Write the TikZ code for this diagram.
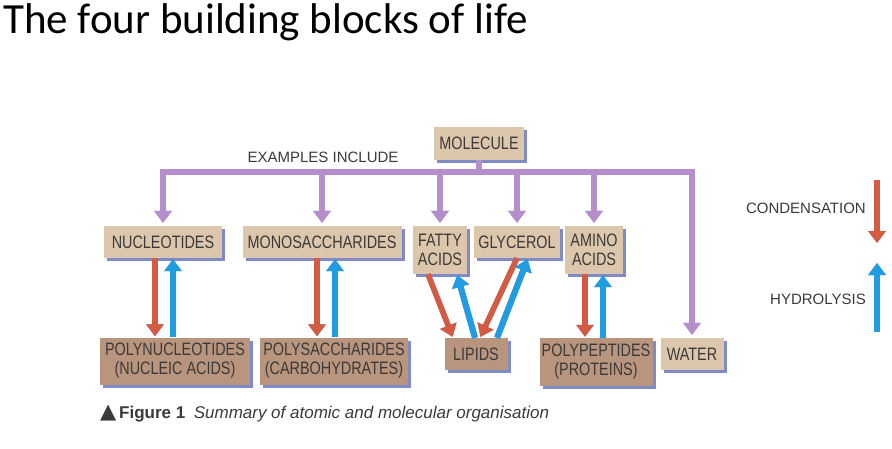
\documentclass[tikz,border=0pt]{standalone}
\usepackage{fontspec}
\setmainfont{Liberation Sans}
\newfontfamily\titlefont{Carlito}
\newfontfamily\boxfont[FakeStretch=0.8]{Liberation Sans}
\newfontfamily\symfont{DejaVu Sans}
\usetikzlibrary{arrows.meta,shadows,calc}
\definecolor{boxtan}{HTML}{DCC6AC}
\definecolor{boxbrown}{HTML}{B9957E}
\definecolor{shadowblue}{HTML}{7D8BC6}
\definecolor{lilac}{HTML}{B68ECB}
\definecolor{condred}{HTML}{D45A42}
\definecolor{hydroblue}{HTML}{1F9CE2}
\definecolor{inkgrey}{HTML}{3A3A3A}
\tikzset{
  unit/.style     = {fill=boxtan, text=inkgrey, align=center, inner sep=0pt,
                     font=\boxfont\fontsize{18}{19}\selectfont,
                     drop shadow={shadow xshift=3pt, shadow yshift=-3pt, fill=shadowblue, opacity=1}},
  polymer/.style  = {unit, fill=boxbrown},
  tree/.style     = {draw=lilac, line width=5.5pt, shorten >=3pt, -{Triangle[length=12pt,width=17pt]}},
  cond/.style     = {draw=condred, line width=5.5pt, shorten >=1pt, -{Triangle[length=12pt,width=17pt]}},
  hydro/.style    = {draw=hydroblue, line width=6pt, shorten >=1pt, -{Triangle[length=12pt,width=17pt]}},
  lbl/.style      = {text=inkgrey, font=\fontsize{15}{18}\selectfont, inner sep=0pt},
}
% all connectors, drawn twice: once as shadow, once in colour
\newcommand\lifelinks{%
  % molecule tree
  \draw[tree, -, shorten >=0pt] (mol.south) -- (mol.south |- bar);
  \draw[tree, -, shorten >=0pt, line cap=rect] (nuc.north |- bar) -- (wat.north |- bar);
  \foreach \n in {nuc,mono,fat,gly,ami,wat}
    \draw[tree] (\n.north |- bar) -- (\n.north);
  % condensation / hydrolysis
  \draw[cond]  ([xshift=-8pt]nuc.south) -- ([xshift=-8pt]nuc.south |- pnuc.north);
  \draw[hydro] ([xshift=10pt]nuc.south |- pnuc.north) -- ([xshift=10pt]nuc.south);
  \draw[cond]  ([xshift=-5pt]mono.south) -- ([xshift=-5pt]mono.south |- psac.north);
  \draw[hydro] ([xshift=13pt]mono.south |- psac.north) -- ([xshift=13pt]mono.south);
  \draw[cond]  ([xshift=-12pt]fat.south) -- ([xshift=-23pt]lip.north);
  \draw[hydro] ([xshift=-1pt]lip.north) -- ([xshift=17pt]fat.south);
  \draw[cond]  (gly.south) -- ([xshift=4pt]lip.north);
  \draw[hydro] ([xshift=21pt]lip.north) -- ([xshift=11pt]gly.south);
  \draw[cond]  ([xshift=-9pt]ami.south) -- ([xshift=-9pt]ami.south |- ppep.north);
  \draw[hydro] ([xshift=9pt]ami.south |- ppep.north) -- ([xshift=9pt]ami.south);
  % legend
  \draw[cond]  (ctop) -- (cbot);
  \draw[hydro] (htail) -- (htip);
}

\begin{document}
\begin{tikzpicture}[x=1pt, y=-1pt]
  \useasboundingbox (0,0) rectangle (892,448);
  \node[anchor=west, inner sep=0pt, font=\titlefont\fontsize{43}{46}\selectfont] (title) at (3,22) {The four building blocks of life};
  % monomers
  \node[unit, minimum width=90pt, minimum height=33pt] (mol) at (479,143) {MOLECULE};
  \node[lbl] (incl) at (323,157) {EXAMPLES INCLUDE};
  \coordinate (bar) at (479,172);
  \node[unit, minimum width=118pt, minimum height=32pt] (nuc) at (163,242) {NUCLEOTIDES};
  \node[unit, minimum width=159pt, minimum height=32pt] (mono) at (322,242) {MONOSACCHARIDES};
  \node[unit, minimum width=54pt, minimum height=48pt] (fat) at (440,250) {FATTY\\ACIDS};
  \node[unit, minimum width=86pt, minimum height=32pt] (gly) at (517,242) {GLYCEROL};
  \node[unit, minimum width=58pt, minimum height=48pt] (ami) at (594,250) {AMINO\\ACIDS};
  % polymers
  \node[polymer, minimum width=150pt, minimum height=47pt] (pnuc) at (175,361) {POLYNUCLEOTIDES\\(NUCLEIC ACIDS)};
  \node[polymer, minimum width=148pt, minimum height=47pt] (psac) at (334,361) {POLYSACCHARIDES\\(CARBOHYDRATES)};
  \node[polymer, minimum width=63pt, minimum height=32pt] (lip) at (476,354) {LIPIDS};
  \node[polymer, minimum width=113pt, minimum height=48pt] (ppep) at (596,362) {POLYPEPTIDES\\(PROTEINS)};
  \node[unit, minimum width=63pt, minimum height=32pt] (wat) at (692,354) {WATER};
  % legend
  \node[lbl, anchor=east] (condtxt) at (866,208) {CONDENSATION};
  \node[lbl, anchor=east] (hydrotxt) at (866,299) {HYDROLYSIS};
  \coordinate (ctop) at (877,180);
  \coordinate (cbot) at (877,244);
  \coordinate (htail) at (877,332);
  \coordinate (htip) at (877,262);
  % connectors
  \begin{scope}[shift={(1.8,1.8)}]
    \colorlet{lilac}{shadowblue}\colorlet{condred}{shadowblue}\colorlet{hydroblue}{shadowblue}
    \lifelinks
  \end{scope}
  \lifelinks
  \node[anchor=west, inner sep=0pt, text=inkgrey, font=\fontsize{17}{20}\selectfont] (caption) at (100,414)
    {{\symfont\fontsize{21}{20}\selectfont ▲}\,\textbf{Figure 1}\enspace\textit{Summary of atomic and molecular organisation}};
\end{tikzpicture}
\end{document}
